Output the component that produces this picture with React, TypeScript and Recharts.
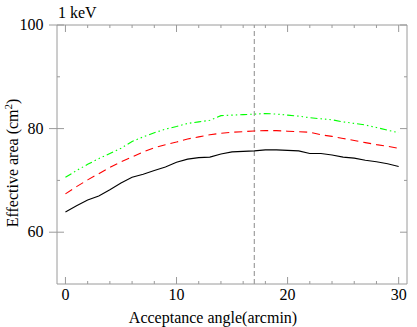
import { LineChart, Line, XAxis, YAxis, ReferenceLine } from 'recharts';

const ANGLE = [0, 1, 2, 3, 4, 5, 6, 7, 8, 9, 10, 11, 12, 13, 14, 15, 16, 17, 18, 19, 20, 21, 22, 23, 24, 25, 26, 27, 28, 29, 30];
const AREA_BLACK = [63.9, 65.1, 66.2, 67.0, 68.2, 69.5, 70.6, 71.2, 71.9, 72.6, 73.5, 74.1, 74.4, 74.5, 75.1, 75.5, 75.6, 75.7, 75.9, 75.9, 75.8, 75.7, 75.2, 75.2, 74.9, 74.5, 74.3, 73.9, 73.6, 73.2, 72.7];
const AREA_RED = [67.4, 68.8, 70.1, 71.3, 72.5, 73.6, 74.5, 75.5, 76.3, 76.9, 77.4, 78.0, 78.4, 78.8, 79.1, 79.3, 79.4, 79.55, 79.6, 79.6, 79.5, 79.4, 79.3, 78.8, 78.5, 78.1, 77.7, 77.3, 76.9, 76.6, 76.2];
const AREA_GREEN = [70.6, 71.9, 73.1, 74.2, 75.2, 76.2, 77.5, 78.4, 79.2, 79.9, 80.4, 81.0, 81.3, 81.6, 82.5, 82.6, 82.7, 82.8, 82.9, 82.8, 82.6, 82.4, 82.1, 81.9, 81.7, 81.3, 81.0, 80.7, 80.2, 79.7, 79.2];

const X_TICKS = [0, 2, 4, 6, 8, 10, 12, 14, 16, 18, 20, 22, 24, 26, 28, 30];
const X_LABELED = [0, 10, 20, 30];
const Y_TICKS = [60, 70, 80, 90, 100];
const Y_LABELED = [60, 80, 100];
const MARKER_ANGLE = 17;

const data = ANGLE.map((a, i) => ({
  angle: a,
  black: AREA_BLACK[i],
  red: AREA_RED[i],
  green: AREA_GREEN[i],
}));

const FRAME = '#9a9a9a';
const FONT = '"Liberation Serif", "Times New Roman", serif';
const TXT = { style: { fontFamily: FONT, fontSize: 16 }, fill: '#000' };

const BottomTick = ({ x, y, payload }: any) => {
  const major = X_LABELED.includes(payload.value);
  return (
    <g>
      <line x1={x} x2={x} y1={y} y2={y - (major ? 7 : 3)} stroke={FRAME} />
      {major && (
        <text x={x} y={y + 16} textAnchor="middle" {...TXT}>
          {payload.value}
        </text>
      )}
    </g>
  );
};

const TopTick = ({ x, y, payload }: any) => {
  const major = X_LABELED.includes(payload.value);
  return <line x1={x} x2={x} y1={y} y2={y + (major ? 7 : 3)} stroke={FRAME} />;
};

const LeftTick = ({ x, y, payload }: any) => {
  const major = Y_LABELED.includes(payload.value);
  return (
    <g>
      <line x1={major ? x - 8 : x} x2={x + (major ? 7 : 3)} y1={y} y2={y} stroke={FRAME} />
      {major && (
        <text x={x - 13.5} y={y + 5} textAnchor="end" {...TXT}>
          {payload.value}
        </text>
      )}
    </g>
  );
};

const RightTick = ({ x, y, payload }: any) => {
  const major = Y_LABELED.includes(payload.value);
  return <line x1={x} x2={x - (major ? 7 : 3)} y1={y} y2={y} stroke={FRAME} />;
};

export default function App() {
  return (
    <div style={{ position: 'fixed', left: 0, top: 0, width: 417, height: 327, background: '#fff' }}>
      <LineChart width={417} height={327} data={data} margin={{ top: 0, right: 0, bottom: 0, left: 0 }}>
        <XAxis
          dataKey="angle"
          type="number"
          domain={[-0.76, 30.75]}
          allowDataOverflow
          ticks={X_TICKS}
          interval={0}
          height={43}
          tickSize={0}
          tickMargin={0}
          tickLine={false}
          axisLine={{ stroke: FRAME }}
          tick={<BottomTick />}
        />
        <XAxis
          xAxisId="top"
          orientation="top"
          dataKey="angle"
          type="number"
          domain={[-0.76, 30.75]}
          allowDataOverflow
          ticks={X_TICKS}
          interval={0}
          height={25}
          tickSize={0}
          tickMargin={0}
          tickLine={false}
          axisLine={{ stroke: FRAME }}
          tick={<TopTick />}
        />
        <YAxis
          type="number"
          domain={[50, 100]}
          allowDataOverflow
          ticks={Y_TICKS}
          interval={0}
          width={57}
          tickSize={0}
          tickMargin={0}
          tickLine={false}
          axisLine={{ stroke: FRAME }}
          tick={<LeftTick />}
        />
        <YAxis
          yAxisId="right"
          orientation="right"
          type="number"
          domain={[50, 100]}
          allowDataOverflow
          ticks={Y_TICKS}
          interval={0}
          width={10}
          tickSize={0}
          tickMargin={0}
          tickLine={false}
          axisLine={{ stroke: FRAME }}
          tick={<RightTick />}
        />
        <ReferenceLine x={MARKER_ANGLE} stroke="#8a8a8a" strokeDasharray="5 3" strokeWidth={1} />
        <Line dataKey="black" stroke="#000" strokeWidth={1.1} dot={false} isAnimationActive={false} />
        <Line dataKey="red" stroke="#ff0000" strokeWidth={1.1} strokeDasharray="8 5" dot={false} isAnimationActive={false} />
        <Line
          dataKey="green"
          stroke="#00ff00"
          strokeWidth={1.1}
          strokeDasharray="7 3 1.5 3 1.5 3 1.5 3"
          dot={false}
          isAnimationActive={false}
        />
        <text x={58} y={18} {...TXT}>
          1 keV
        </text>
        <text x={213} y={323} textAnchor="middle" {...TXT}>
          Acceptance angle(arcmin)
        </text>
        <text x={18} y={163} textAnchor="middle" transform="rotate(-90, 18, 163)" {...TXT}>
          Effective area (cm<tspan dy={-6} style={{ fontSize: 11 }}>2</tspan>
          <tspan dy={6}>)</tspan>
        </text>
      </LineChart>
    </div>
  );
}
